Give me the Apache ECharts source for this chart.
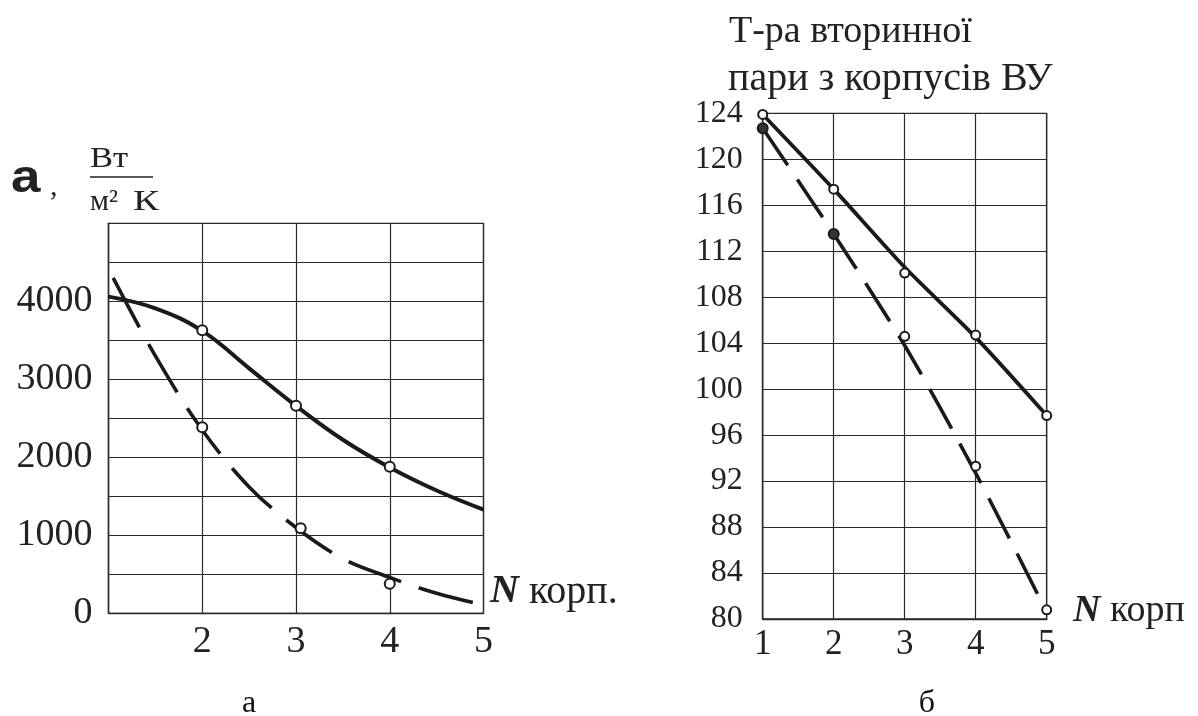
<!DOCTYPE html>
<html><head><meta charset="utf-8">
<script src="https://cdn.jsdelivr.net/npm/echarts@6/dist/echarts.min.js"></script>
<style>html,body{margin:0;padding:0;background:#fff}#c{width:1198px;height:716px}</style>
</head><body><div id="c"></div>
<script>
// ---- Chart "а": heat transfer coefficient, W/(m2 K) ----
const leftXLabels = [2, 3, 4, 5];
const leftYLabels = [0, 1000, 2000, 3000, 4000];
const leftSolidCurve = [[1,4060],[1.5,3910],[2,3620],[2.5,3140],[3,2660],[3.5,2225],[4,1870],[4.5,1575],[5,1330]];
const leftSolidPoints = [[2,3630],[3,2660],[4,1880]];
const leftDashedCurve = [[1.05,4300],[1.5,3300],[2,2350],[2.5,1620],[3,1100],[3.5,700],[4,460],[4.5,256],[5,105]];
const leftDashedPoints = [[2,2385],[3.05,1090],[4,380]];

// ---- Chart "б": secondary steam temperature ----
const rightXLabels = [1, 2, 3, 4, 5];
const rightYLabels = [80, 84, 88, 92, 96, 100, 104, 108, 112, 116, 120, 124];
const rightSolidCurve = [[1,123.9],[2,117.4],[3,110.6],[4,104.5],[5,97.7]];
const rightSolidPoints = [[1,123.9],[2,117.4],[3,110.1],[4,104.7],[5,97.7]];
const rightDashedCurve = [[1,122.7],[2,113.5],[3,103.8],[4,92.7],[5,80.6]];
const rightDashedFilledPoints = [[1,122.7],[2,113.5]];
const rightDashedOpenPoints = [[3,104.6],[4,93.3],[5,80.8]];

const SERIF = '"Liberation Serif", "DejaVu Serif", serif';
const INK = '#1a1a1a';
const GRIDC = '#2a2a2a';

function xAxisCfg(gi, labels, fontSize, margin) {
  return {
    type: 'value', gridIndex: gi, min: 1, max: 5, interval: 1,
    axisLine: { show: true, lineStyle: { color: GRIDC, width: 1.3 } },
    axisTick: { show: false },
    splitLine: { show: true, lineStyle: { color: GRIDC, width: 1.2 } },
    axisLabel: {
      formatter: v => labels.includes(v) ? String(v) : '',
      fontFamily: SERIF, fontSize: fontSize, color: '#222', margin: margin,
      showMinLabel: true, showMaxLabel: true
    }
  };
}
function yAxisCfg(gi, min, max, interval, labels, fontSize, margin) {
  return {
    type: 'value', gridIndex: gi, min: min, max: max, interval: interval,
    axisLine: { show: true, lineStyle: { color: GRIDC, width: 1.3 } },
    axisTick: { show: false },
    splitLine: { show: true, lineStyle: { color: GRIDC, width: 1.2 } },
    axisLabel: {
      formatter: v => labels.includes(v) ? String(v) : '',
      fontFamily: SERIF, fontSize: fontSize, color: '#222', margin: margin,
      verticalAlign: 'middle',
      showMinLabel: true, showMaxLabel: true
    }
  };
}
function curve(xi, data, dashed, width, dash, smooth) {
  return {
    type: 'line', xAxisIndex: xi, yAxisIndex: xi, data: data,
    smooth: smooth, showSymbol: false, symbol: 'none', silent: true,
    lineStyle: { color: INK, width: width, type: dashed ? dash : 'solid', cap: 'butt' },
    z: 3
  };
}
function points(xi, data, size, fill) {
  return {
    type: 'scatter', xAxisIndex: xi, yAxisIndex: xi, data: data,
    symbol: 'circle', symbolSize: size, silent: true,
    itemStyle: { color: fill || '#fff', borderColor: INK, borderWidth: 2, opacity: 1 },
    z: 4
  };
}
function txt(x, y, text, font, extra) {
  return Object.assign({ type: 'text', x: x, y: y,
    style: { text: text, font: font, fill: '#222', verticalAlign: 'top' } }, extra || {});
}

const chart = echarts.init(document.getElementById('c'), null, { renderer: 'canvas' });
chart.setOption({
  animation: false,
  backgroundColor: '#fff',
  grid: [
    { left: 108.5, top: 223.3, width: 375, height: 390, show: true, borderColor: GRIDC, borderWidth: 1.3, backgroundColor: 'transparent' },
    { left: 762.7, top: 113.3, width: 284, height: 505.7, show: true, borderColor: GRIDC, borderWidth: 1.3, backgroundColor: 'transparent' }
  ],
  xAxis: [ xAxisCfg(0, leftXLabels, 38, 10), xAxisCfg(1, rightXLabels, 35, 8) ],
  yAxis: [
    yAxisCfg(0, 0, 5000, 500, leftYLabels, 38, 16),
    yAxisCfg(1, 80, 124, 4, rightYLabels, 32, 20)
  ],
  series: [
    curve(0, leftSolidCurve, false, 4, null, 0.4),
    curve(0, leftDashedCurve, true, 3.6, [56, 19], 0.35),
    points(0, leftSolidPoints, 10),
    points(0, leftDashedPoints, 10),
    curve(1, rightSolidCurve, false, 3.8, null, 0.25),
    curve(1, rightDashedCurve, true, 3.6, [45, 17], 0.25),
    points(1, rightSolidPoints, 9),
    points(1, rightDashedFilledPoints, 10, '#333'),
    points(1, rightDashedOpenPoints, 9)
  ],
  graphic: [
    // left heading: "а, Вт / (м² К)"
    txt(11, 156, 'а', 'bold 46px "Liberation Sans", Arial, sans-serif', { scaleX: 1.15 }),
    txt(50, 172, ',', '30px ' + SERIF),
    txt(90, 144, 'Вт', '30px ' + SERIF, { scaleX: 1.15 }),
    { type: 'line', shape: { x1: 90, y1: 177, x2: 153, y2: 177 }, style: { stroke: '#222', lineWidth: 1.5 } },
    txt(90, 187, 'м²', '30px ' + SERIF),
    txt(133, 187, 'К', '30px ' + SERIF, { scaleX: 1.3 }),
    // left x-axis name
    txt(490, 572, '', '40px ' + SERIF, { style: { text: '{n|N} корп.', font: '40px ' + SERIF, fill: '#222', verticalAlign: 'top',
        rich: { n: { fontFamily: SERIF, fontSize: 40, fontStyle: 'italic', fontWeight: 'bold', fill: '#222' } } } }),
    // right heading
    txt(729, 13, 'Т-ра вторинної', '38px ' + SERIF),
    txt(728, 59, 'пари з корпусів ВУ', '40px ' + SERIF),
    // right x-axis name
    txt(1073, 592, '', '38px ' + SERIF, { style: { text: '{n|N} корп', font: '38px ' + SERIF, fill: '#222', verticalAlign: 'top',
        rich: { n: { fontFamily: SERIF, fontSize: 38, fontStyle: 'italic', fontWeight: 'bold', fill: '#222' } } } }),
    // captions
    txt(249, 688, '', '32px ' + SERIF, { style: { text: 'а', font: '32px ' + SERIF, fill: '#111', align: 'center', verticalAlign: 'top' } }),
    txt(927, 688, '', '32px ' + SERIF, { style: { text: 'б', font: '32px ' + SERIF, fill: '#111', align: 'center', verticalAlign: 'top' } })
  ]
});
</script></body></html>
